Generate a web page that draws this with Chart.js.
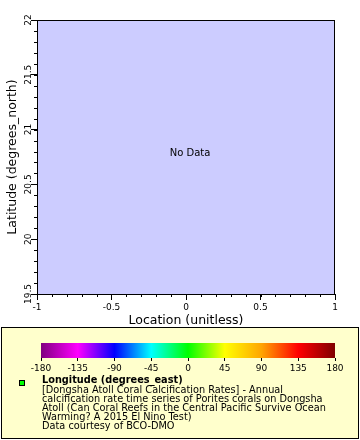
<!DOCTYPE html>
<html>
<head>
<meta charset="utf-8">
<script src="https://cdn.jsdelivr.net/npm/chart.js@4/dist/chart.umd.min.js"></script>
<style>
  body { margin: 0; background: #fff; font-family: "DejaVu Sans", sans-serif; }
  #wrap { position: relative; width: 360px; height: 440px; overflow: hidden; }
  #plot { position: absolute; left: 0; top: 0; }
  #legend { position: absolute; left: 1px; top: 327px; width: 356px; height: 110px;
            border: 1px solid #000; background: #ffffcc; }
  #bar { position: absolute; left: 0; top: 330px; }
  #marker { position: absolute; left: 19px; top: 380px; width: 4px; height: 4px;
            border: 1px solid #000; background: #00ff00; }
  #info { position: absolute; left: 42px; top: 375px; font-size: 9.75px; line-height: 9.1px;
          white-space: nowrap; color: #000; }
  #info b { display: block; margin-bottom: 1px; }
</style>
</head>
<body>
<div id="wrap">
  <canvas id="plot" width="360" height="330"></canvas>
  <div id="legend"></div>
  <canvas id="bar" width="360" height="45"></canvas>
  <div id="marker"></div>
  <div id="info">
    <b>Longitude (degrees_east)</b>
    [Dongsha Atoll Coral Calcification Rates] - Annual<br>
    calcification rate time series of Porites corals on Dongsha<br>
    Atoll (Can Coral Reefs in the Central Pacific Survive Ocean<br>
    Warming? A 2015 El Nino Test)<br>
    Data courtesy of BCO-DMO
  </div>
</div>

<script>
// no points came back for this query
const points = [];

const xTicks = [-1, -0.5, 0, 0.5, 1];
const yTicks = [19.5, 20, 20.5, 21, 21.5, 22];
const xMinor = 0.1;
const yMinor = 0.1;

const colorTicks = [-180, -135, -90, -45, 0, 45, 90, 135, 180];
const colorStops = ['#800080', '#ff00ff', '#0000ff', '#00ffff', '#00ff00',
                    '#ffff00', '#ffa500', '#ff0000', '#800000'];

Chart.defaults.font.family = '"DejaVu Sans"';
Chart.defaults.color = '#000';

const plotFrame = {
  id: 'plotFrame',
  beforeDraw(chart) {
    const a = chart.chartArea;
    const ctx = chart.ctx;
    ctx.save();
    ctx.fillStyle = '#ccccff';
    ctx.fillRect(a.left, a.top, a.right - a.left, a.bottom - a.top);
    ctx.restore();
  },
  afterDraw(chart) {
    const a = chart.chartArea;
    const ctx = chart.ctx;
    const sx = chart.scales.x, sy = chart.scales.y;
    ctx.save();
    ctx.strokeStyle = '#000';
    ctx.lineWidth = 1;
    ctx.strokeRect(a.left + 0.5, a.top + 0.5, a.right - a.left - 1, a.bottom - a.top);
    // minor ticks
    ctx.beginPath();
    for (let v = sx.min; v <= sx.max + 1e-9; v += xMinor) {
      const px = Math.round(sx.getPixelForValue(v)) + 0.5;
      ctx.moveTo(px, a.bottom);
      ctx.lineTo(px, a.bottom + 3);
    }
    for (let v = sy.min; v <= sy.max + 1e-9; v += yMinor) {
      const py = Math.round(sy.getPixelForValue(v)) + 0.5;
      ctx.moveTo(a.left, py);
      ctx.lineTo(a.left - 3, py);
    }
    ctx.stroke();
    if (points.length === 0) {
      ctx.fillStyle = '#000';
      ctx.font = '10px "DejaVu Sans"';
      ctx.textAlign = 'center';
      ctx.textBaseline = 'middle';
      ctx.fillText('No Data', (a.left + a.right) / 2 + 4, (a.top + a.bottom) / 2 - 4);
    }
    ctx.restore();
  }
};

new Chart(document.getElementById('plot'), {
  type: 'scatter',
  data: { datasets: [{ data: points, backgroundColor: '#00ff00' }] },
  options: {
    responsive: false,
    animation: false,
    devicePixelRatio: 1,
    layout: { padding: { left: 0, top: 20, right: 25, bottom: 0 } },
    plugins: { legend: { display: false }, tooltip: { enabled: false } },
    scales: {
      x: {
        type: 'linear', min: -1, max: 1,
        afterBuildTicks: s => { s.ticks = xTicks.map(v => ({ value: v })); },
        afterFit: s => { s.height = 36; },
        ticks: { autoSkip: false, maxRotation: 0, padding: 2, font: { size: 9 },
                 callback: v => String(v) },
        grid: { drawOnChartArea: false, tickLength: 6, tickColor: '#000' },
        border: { display: true, color: '#000' },
        title: { display: true, text: 'Location (unitless)', font: { size: 12.5 },
                 padding: { top: 0, bottom: 1.5 } }
      },
      y: {
        type: 'linear', min: 19.5, max: 22,
        afterBuildTicks: s => { s.ticks = yTicks.map(v => ({ value: v })); },
        afterFit: s => { s.width = 37; },
        ticks: { autoSkip: false, minRotation: 90, maxRotation: 90, crossAlign: 'center',
                 padding: -8, font: { size: 9 }, callback: v => String(v) },
        grid: { drawOnChartArea: false, tickLength: 6, tickColor: '#000' },
        border: { display: true, color: '#000' },
        title: { display: true, text: 'Latitude (degrees_north)', font: { size: 12.5 },
                 padding: { top: 5, bottom: 0 } }
      }
    }
  },
  plugins: [plotFrame]
});

const colorRamp = {
  id: 'colorRamp',
  beforeDraw(chart) {
    const a = chart.chartArea;
    const sx = chart.scales.x;
    const ctx = chart.ctx;
    const g = ctx.createLinearGradient(a.left, 0, a.right, 0);
    colorTicks.forEach((v, i) => {
      g.addColorStop((sx.getPixelForValue(v) - a.left) / (a.right - a.left), colorStops[i]);
    });
    ctx.save();
    ctx.fillStyle = g;
    ctx.fillRect(a.left, a.top, a.right - a.left, a.bottom - a.top);
    ctx.restore();
  }
};

new Chart(document.getElementById('bar'), {
  type: 'scatter',
  data: { datasets: [{ data: [] }] },
  options: {
    responsive: false,
    animation: false,
    devicePixelRatio: 1,
    layout: { padding: { left: 41, top: 13, right: 25, bottom: 0 } },
    plugins: { legend: { display: false }, tooltip: { enabled: false } },
    scales: {
      x: {
        type: 'linear', min: -180, max: 180,
        afterBuildTicks: s => { s.ticks = colorTicks.map(v => ({ value: v })); },
        afterFit: s => { s.height = 17; },
        ticks: { autoSkip: false, maxRotation: 0, padding: 2, font: { size: 9 },
                 callback: v => String(v) },
        grid: { drawOnChartArea: false, tickLength: 3, tickColor: '#000' },
        border: { display: false }
      },
      y: { display: false, min: 0, max: 1 }
    }
  },
  plugins: [colorRamp]
});
</script>
</body>
</html>
